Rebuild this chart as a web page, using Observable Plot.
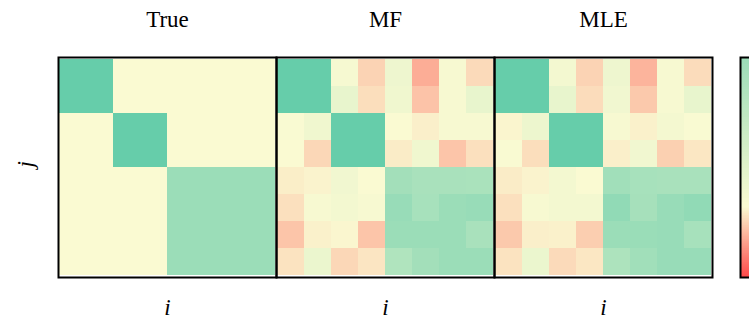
<!DOCTYPE html>
<html>
<head>
<meta charset="utf-8">
<script src="https://cdn.jsdelivr.net/npm/d3@7"></script>
<script src="https://cdn.jsdelivr.net/npm/@observablehq/plot@0.6"></script>
<style>
  html, body { margin: 0; padding: 0; background: #fff; overflow: hidden; }
  #wrap { position: relative; width: 749px; height: 320px; overflow: hidden; }
  #bar { position: absolute; left: 737px; top: 0; width: 30px; height: 320px; }
  #bar svg { max-width: none !important; }
</style>
</head>
<body>
<div id="wrap"><div id="main"></div><div id="bar"></div></div>
<script>
// Panel titles
const panels = ["True", "MF", "MLE"];

// Block-structured ground-truth matrix (rows j top to bottom, columns i)
const trueRows = [
  [1, 1, 0, 0, 0, 0, 0, 0],
  [1, 1, 0, 0, 0, 0, 0, 0],
  [0, 0, 1, 1, 0, 0, 0, 0],
  [0, 0, 1, 1, 0, 0, 0, 0],
  [0, 0, 0, 0, 0.64, 0.64, 0.64, 0.64],
  [0, 0, 0, 0, 0.64, 0.64, 0.64, 0.64],
  [0, 0, 0, 0, 0.64, 0.64, 0.64, 0.64],
  [0, 0, 0, 0, 0.64, 0.64, 0.64, 0.64]
];

// Mean-field estimate
const mfRows = [
  [1, 1, 0.03, -0.22, 0.08, -0.44, 0.02, -0.18],
  [1, 1, 0.12, -0.16, 0.07, -0.31, 0.02, 0.12],
  [0.01, 0.07, 1, 1, 0.0, -0.06, 0.02, 0.02],
  [0.0, -0.2, 1, 1, -0.08, 0.07, -0.3, -0.15],
  [-0.07, -0.04, 0.06, 0.0, 0.59, 0.55, 0.55, 0.54],
  [-0.15, 0.02, 0.05, 0.02, 0.66, 0.56, 0.64, 0.66],
  [-0.3, -0.05, -0.02, -0.3, 0.64, 0.64, 0.64, 0.55],
  [-0.13, 0.1, -0.2, -0.12, 0.5, 0.59, 0.64, 0.64]
];

// Maximum-likelihood estimate
const mleRows = [
  [1, 1, 0.05, -0.22, 0.08, -0.4, 0.02, -0.17],
  [1, 1, 0.12, -0.17, 0.06, -0.28, 0.02, 0.12],
  [-0.03, 0.09, 1, 1, 0.02, -0.05, 0.04, 0.01],
  [0.01, -0.16, 1, 1, -0.06, 0.06, -0.24, -0.11],
  [-0.08, -0.04, 0.05, 0.0, 0.6, 0.56, 0.55, 0.55],
  [-0.15, 0.02, 0.05, 0.05, 0.71, 0.57, 0.66, 0.71],
  [-0.28, -0.06, -0.05, -0.25, 0.64, 0.65, 0.66, 0.56],
  [-0.13, 0.1, -0.18, -0.11, 0.52, 0.6, 0.66, 0.66]
];

// Diverging colour map: red -> pale yellow -> aquamarine
const colorDomain = [-1, 0, 1];
const colorRange = ["#ff4a4a", "#fafad2", "#66cdaa"];
// Colour-bar limits (bottom, midpoint, top)
const barLimits = [-1, 0, 0.65];

const cells = [];
[trueRows, mfRows, mleRows].forEach((rows, p) =>
  rows.forEach((row, j) => row.forEach((v, i) => cells.push({panel: panels[p], i, j, v})))
);

const idx = d3.range(8);
const font = "'Liberation Serif', 'DejaVu Serif', serif";
const colorSpec = {type: "linear", domain: colorDomain, range: colorRange, interpolate: "rgb", clamp: true};

const main = Plot.plot({
  width: 749,
  height: 320,
  marginLeft: 58,
  marginRight: 37,
  marginTop: 57,
  marginBottom: 43,
  style: {fontFamily: font, background: "white", color: "black"},
  fx: {domain: panels, padding: 0, axis: null},
  x: {type: "band", domain: idx, padding: 0, axis: null},
  y: {type: "band", domain: idx, padding: 0, axis: null},
  color: colorSpec,
  marks: [
    Plot.cell(cells, {x: "i", y: "j", fx: "panel", fill: "v", inset: 0, shapeRendering: "crispEdges"}),
    Plot.frame({stroke: "black", strokeWidth: 2}),
    Plot.text(panels, {fx: d => d, text: d => d, frameAnchor: "top", lineAnchor: "middle", dy: -38, fontSize: 23, fill: "black"}),
    Plot.text(panels, {fx: d => d, text: () => "i", frameAnchor: "bottom", lineAnchor: "middle", dy: 30, fontSize: 23, fontStyle: "italic", fill: "black"}),
    Plot.text(["True"], {fx: d => d, text: () => "j", frameAnchor: "left", lineAnchor: "middle", dx: -33, rotate: -90, fontSize: 23, fontStyle: "italic", fill: "black"})
  ]
});
document.getElementById("main").appendChild(main);

// Colour bar
const step = 0.01;
const stops = d3.range(barLimits[0], barLimits[2] - 1e-9, step);
const bar = Plot.plot({
  width: 30,
  height: 320,
  marginLeft: 3,
  marginRight: 0,
  marginTop: 57,
  marginBottom: 43,
  style: {background: "transparent", maxWidth: "none"},
  x: {domain: [0, 1], axis: null},
  y: {type: "linear", domain: barLimits, range: [277, 207, 57], axis: null},
  color: colorSpec,
  marks: [
    Plot.rect(stops, {x1: 0, x2: 1, y1: d => d, y2: d => Math.min(d + step * 1.5, barLimits[2]), fill: d => d, shapeRendering: "crispEdges"}),
    Plot.frame({stroke: "black", strokeWidth: 2})
  ]
});
document.getElementById("bar").appendChild(bar);
</script>
</body>
</html>
